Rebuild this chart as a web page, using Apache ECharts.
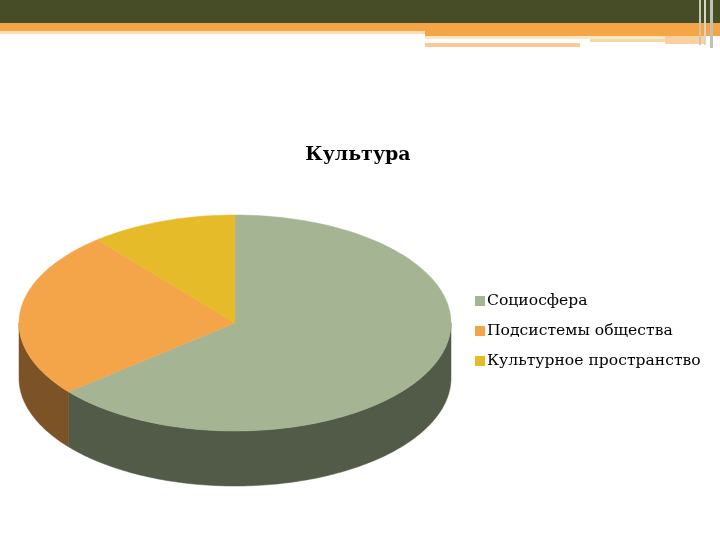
<!DOCTYPE html>
<html><head><meta charset="utf-8">
<script src="https://cdn.jsdelivr.net/npm/echarts@6/dist/echarts.min.js"></script>
<style>html,body{margin:0;padding:0;background:#fff}#c{width:720px;height:540px}</style>
</head><body><div id="c"></div>
<script>
const categories = ['Социосфера', 'Подсистемы общества', 'Культурное пространство'];
const values = [64, 25, 11];
const topColors = ['#A5B593', '#F4A549', '#E6BB2A'];
const sideColors = ['#525A48', '#7C5327', '#8A6F17'];
const titleText = 'Культура';

const chart = echarts.init(document.getElementById('c'), null, {renderer: 'canvas'});
const total = values.reduce((a, b) => a + b, 0);
const CX = 235, CY = 323, RX = 216, RY = 108, DEPTH = 55;

function pt(deg, dy) {
  const r = deg * Math.PI / 180;
  return [CX + RX * Math.sin(r), CY - RY * Math.cos(r) + (dy || 0)];
}
function arc(a0, a1, dy) {
  const pts = [];
  const n = Math.max(2, Math.ceil(Math.abs(a1 - a0)));
  for (let k = 0; k <= n; k++) pts.push(pt(a0 + (a1 - a0) * k / n, dy));
  return pts;
}
function makeRender(i) {
  return function (params, api) {
    const start = api.value(0), val = api.value(1);
    const a0 = start / total * 360, a1 = (start + val) / total * 360;
    const children = [];
    const w0 = Math.max(a0, 90), w1 = Math.min(a1, 270);
    if (w1 > w0) {
      const top = arc(w0, w1, 0);
      const bot = arc(w1, w0, DEPTH);
      children.push({type: 'polygon', z2: 1, shape: {points: top.concat(bot)},
        style: {fill: sideColors[i], stroke: sideColors[i], lineWidth: 0.5}});
    }
    const pts = [[CX, CY]].concat(arc(a0, a1, 0));
    children.push({type: 'polygon', z2: 10, shape: {points: pts},
      style: {fill: topColors[i], stroke: topColors[i], lineWidth: 0.5}});
    return {type: 'group', children: children};
  };
}

let cum = 0;
const series = categories.map((name, i) => {
  const s = {
    type: 'custom', name: name, coordinateSystem: 'none',
    color: topColors[i], silent: true,
    data: [[cum, values[i]]],
    renderItem: makeRender(i)
  };
  cum += values[i];
  return s;
});

chart.setOption({
  animation: false,
  backgroundColor: '#fff',
  title: {text: titleText, left: 353, top: 141, textAlign: 'center',
    textStyle: {fontFamily: 'DejaVu Serif', fontWeight: 'bold', fontSize: 19, color: '#000'}},
  legend: {
    data: categories, orient: 'vertical', left: 470, top: 288,
    icon: 'rect', itemWidth: 10, itemHeight: 10, itemGap: 14,
    selectedMode: false,
    textStyle: {fontFamily: 'DejaVu Serif', fontSize: 15.6, color: '#000', padding: [0, 0, 0, -3]}
  },
  graphic: [
    {type: 'rect', shape: {x: 0, y: 0, width: 720, height: 23}, style: {fill: '#474D27'}},
    {type: 'rect', shape: {x: 0, y: 23, width: 720, height: 8}, style: {fill: '#F6A546'}},
    {type: 'rect', shape: {x: 0, y: 31, width: 425, height: 3}, style: {fill: '#FCDDB5'}},
    {type: 'rect', shape: {x: 425, y: 31, width: 295, height: 5}, style: {fill: '#F6A546'}},
    {type: 'rect', shape: {x: 425, y: 36, width: 240, height: 3}, style: {fill: '#FCE6C4'}},
    {type: 'rect', shape: {x: 590, y: 39, width: 80, height: 3}, style: {fill: '#F3D9A8'}},
    {type: 'rect', shape: {x: 425, y: 43, width: 155, height: 4}, style: {fill: '#FBC995'}},
    {type: 'rect', shape: {x: 665, y: 36, width: 40, height: 8}, style: {fill: '#FAD0A0'}},
    {type: 'rect', shape: {x: 699, y: 0, width: 2, height: 45}, style: {fill: '#C9C7B0'}},
    {type: 'rect', shape: {x: 704, y: 0, width: 2, height: 45}, style: {fill: '#D8D6C4'}},
    {type: 'rect', shape: {x: 710, y: 0, width: 3, height: 48}, style: {fill: '#C2C2B4'}}
  ],
  series: series
});
</script></body></html>
